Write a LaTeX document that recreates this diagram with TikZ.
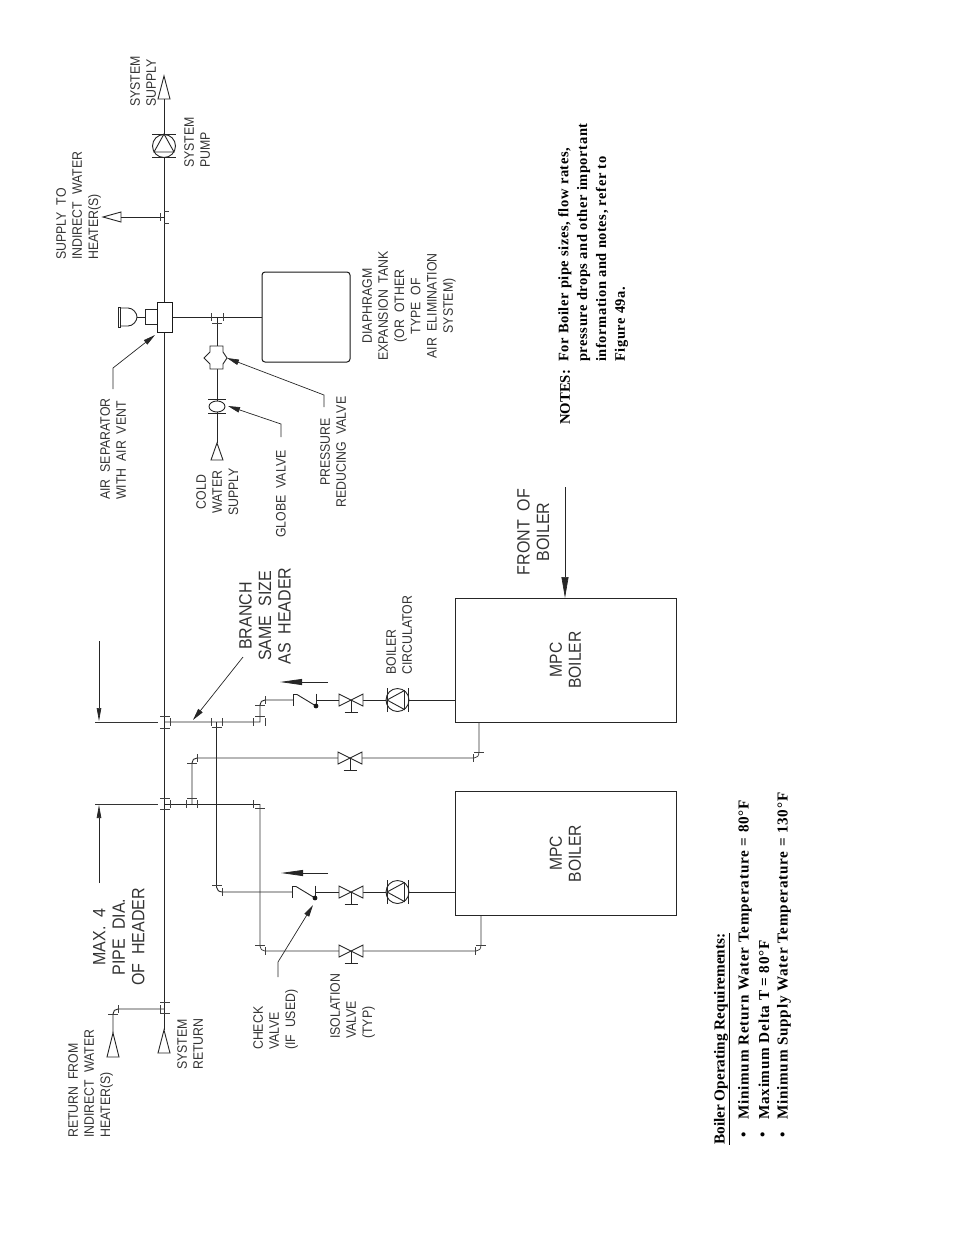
\documentclass[tikz,border=0pt]{standalone}
\usepackage{fontspec}
\setmainfont{Liberation Serif}
\newfontfamily\cadf[FakeStretch=0.9]{Liberation Sans}
\newfontfamily\notef[LetterSpace=4]{Liberation Serif}
\newfontfamily\reqf[LetterSpace=5]{Liberation Serif}
\usetikzlibrary{arrows.meta}
\tikzset{
  pipe/.style={line width=0.9pt,draw=black!85},
  thinp/.style={line width=0.7pt,draw=black!80},
  tk/.style={line width=0.6pt,draw=black!75},
  bigarrow/.style={line width=0.7pt,draw=black!85,-{Triangle[length=21pt,width=7pt]}},
  dimarrow/.style={line width=0.7pt,draw=black!85,-{Triangle[length=13pt,width=4.5pt]}},
  flow/.style={line width=0.8pt,draw=black!85,-{Triangle[length=22pt,width=6pt]}},
  lead/.style={line width=0.7pt,draw=black!85,-{Triangle[length=12pt,width=5.5pt]}},
  cadm/.style={rotate=90,inner sep=0pt,text=black!80,font=\cadf\fontsize{13.7}{16.2}\selectfont},
  cadl/.style={rotate=90,inner sep=0pt,text=black!80,font=\cadf\fontsize{17.8}{19.5}\selectfont},
  lft/.style={anchor=north west,align=left},
  ctr/.style={anchor=north,align=center},
  boiler/.style={rotate=90,draw=black!85,line width=0.9pt,minimum width=124pt,minimum height=221pt,inner sep=0pt,align=center,text=black!80,font=\cadf\fontsize{17.4}{19}\selectfont},
  bold/.style={rotate=90,inner sep=0pt,font=\bfseries\fontsize{14.7}{18.8}\selectfont},
  boldb/.style={rotate=90,inner sep=0pt,font=\notef\bfseries\fontsize{14.5}{18.8}\selectfont},
  reqh/.style={rotate=90,inner sep=0pt,anchor=west,font=\bfseries\fontsize{15.3}{18}\selectfont},
  req/.style={rotate=90,inner sep=0pt,anchor=west,font=\reqf\bfseries\fontsize{15.2}{18}\selectfont},
}
\newcommand{\vtk}[2]{\draw[tk] (#1,#2-4) -- (#1,#2+4);}
\newcommand{\htk}[2]{\draw[tk] (#1-5,#2) -- (#1+5,#2);}
\newcommand{\myvalve}[2]{%
  \draw[pipe,fill=white] (#1-12,#2-6) -- (#1+12,#2+6) -- (#1+12,#2-6) -- (#1-12,#2+6) -- cycle;
  \draw[pipe] (#1,#2) -- (#1,#2+12);
  \draw[pipe] (#1-6.5,#2+12) -- (#1+6.5,#2+12);}
\newcommand{\mycirc}[2]{%
  \draw[pipe,fill=white] (#1,#2) circle (11.5);
  \draw[pipe] (#1-10.5,#2-12) -- (#1-10.5,#2+12);
  \draw[pipe] (#1+10.5,#2-12) -- (#1+10.5,#2+12);
  \draw[pipe] (#1+7,#2-9.5) -- (#1-10.5,#2) -- (#1+7,#2+9.5) -- cycle;}
\newcommand{\mychk}[2]{%
  \draw[pipe] (#1,#2-5.5) -- (#1,#2+6);
  \draw[pipe] (#1,#2-5.5) -- (#1+4,#2-5.5) -- (#1+23,#2+6);
  \draw[pipe] (#1+23,#2-6.5) -- (#1+23,#2+6);
  \fill[black!90] (#1+23,#2+6) circle (2.4);}
\begin{document}
\begin{tikzpicture}[x=1pt,y=-1pt]
\useasboundingbox (0,0) rectangle (954,1235);

% ---------- boilers and tank
\node[boiler] (boilerA) at (565.5,660) {MPC\\BOILER};
\node[boiler] (boilerB) at (565.5,853.5) {MPC\\BOILER};
\node[draw=black!90,line width=1pt,rounded corners=3pt,minimum width=88pt,minimum height=90pt,inner sep=0pt] (tank) at (306,317) {};

% ---------- named pipe points
\coordinate (supArrow) at (164,99);
\coordinate (retArrow) at (164,1030);
\coordinate (branchA) at (164,722);
\coordinate (branchB) at (164,804);
\coordinate (elbA) at (260,722);
\coordinate (elbAtop) at (260,705);
\coordinate (elbAend) at (265,700);
\coordinate (chkA) at (293,700);
\coordinate (chkAout) at (316,700);
\coordinate (valA) at (351,700);
\coordinate (circA) at (397.5,700);
\coordinate (inA) at (455,700);
\coordinate (teeA) at (216.5,722);
\coordinate (elbC) at (216.5,887);
\coordinate (elbCend) at (223,892);
\coordinate (chkB) at (292,892);
\coordinate (chkBout) at (315,892);
\coordinate (valB) at (351,892);
\coordinate (circB) at (397.5,892);
\coordinate (inB) at (455,892);
\coordinate (teeB) at (192,804);
\coordinate (elbD) at (192,763);
\coordinate (elbDend) at (197,758);
\coordinate (valC) at (350,758);
\coordinate (elbE) at (474,758);
\coordinate (elbEup) at (479,752);
\coordinate (outA) at (479,722);
\coordinate (elbF) at (260,804);
\coordinate (elbFlo) at (260,946);
\coordinate (elbFend) at (265,951);
\coordinate (valD) at (351,951);
\coordinate (elbG) at (476,951);
\coordinate (elbGup) at (481,945);
\coordinate (outB) at (481,916);
\coordinate (teeInd) at (164,217);
\coordinate (indTri) at (121,217);
\coordinate (sepStem) at (164,317);
\coordinate (teeCold) at (217,317);
\coordinate (coldTri) at (217,443);
\coordinate (retB) at (164,1009);
\coordinate (retElb) at (118,1009);
\coordinate (retDown) at (113,1014);
\coordinate (retTri) at (113,1033);

% ---------- pipes
\draw[pipe] (supArrow) -- (retArrow);
\draw[pipe] (branchA) -- (elbA) -- (elbAtop) .. controls (260,702) and (262,700) .. (elbAend) -- (chkA);
\draw[pipe] (chkAout) -- (inA);
\draw[pipe] (teeA) -- (elbC) .. controls (216.5,890) and (219,892) .. (elbCend) -- (chkB);
\draw[pipe] (chkBout) -- (inB);
\draw[pipe] (branchB) -- (elbF);
\draw[thinp] (elbF) -- (elbFlo) .. controls (260,949) and (262,951) .. (elbFend) -- (elbG) .. controls (479,951) and (481,949) .. (elbGup) -- (outB);
\draw[pipe] (teeB) -- (elbD) .. controls (192,760) and (194,758) .. (elbDend);
\draw[thinp] (elbDend) -- (elbE) .. controls (477,758) and (479,756) .. (elbEup) -- (outA);
\draw[pipe] (teeInd) -- (indTri);
\draw[pipe] (teeCold) -- (coldTri);
\draw[pipe] (retB) -- (retElb) .. controls (115,1009) and (113,1011) .. (retDown) -- (retTri);

% ---------- header dimension lines
\coordinate (dimA0) at (95,722);
\coordinate (dimA1) at (158,722);
\coordinate (dimB0) at (95,804);
\coordinate (dimB1) at (158,804);
\draw[thinp] (dimA0) -- (dimA1);
\draw[thinp] (dimB0) -- (dimB1);
\coordinate (dimAs) at (99,641);
\coordinate (dimAe) at (99,721);
\coordinate (dimBs) at (99,883);
\coordinate (dimBe) at (99,805);
\draw[dimarrow] (dimAs) -- (dimAe);
\draw[dimarrow] (dimBs) -- (dimBe);

% ---------- end triangles
\draw[pipe] (164,76) -- (170,99) -- (158,99) -- cycle;
\draw[pipe] (164,1030) -- (170,1053) -- (158,1053) -- cycle;
\draw[pipe] (103,217) -- (121,212) -- (121,222) -- cycle;
\draw[pipe] (217,443) -- (223,460) -- (211,460) -- cycle;
\draw[pipe] (113,1033) -- (119,1057) -- (107,1057) -- cycle;

% ---------- system pump
\draw[pipe,fill=white] (164,146) circle (11.5);
\draw[pipe] (152,134) -- (176,134);
\draw[pipe] (152,157) -- (176,157);
\draw[pipe] (164,134) -- (154,152) -- (174,152) -- cycle;

% ---------- air separator and vent
\node[draw=black!90,fill=white,line width=1pt,minimum width=15pt,minimum height=30pt,inner sep=0pt] (sepBody) at (164.5,317) {};
\draw[pipe] (157,309.5) -- (145.5,309.5) -- (145.5,324.5) -- (157,324.5);
\coordinate (ventNeck) at (145.5,317);
\coordinate (ventDome) at (137,317);
\draw[pipe] (ventNeck) -- (ventDome);
\draw[pipe] (120.5,308) -- (128,308) .. controls (133,308) and (137,313) .. (ventDome) .. controls (137,321) and (133,326) .. (128,326) -- (120.5,326);
\draw[pipe] (118,307) rectangle (120.5,327);
\draw[pipe] (sepBody.east) -- (tank.west);

% ---------- pressure reducing valve
\draw[pipe,fill=white] (210,346) -- (223,346) -- (223,352) -- (227,358) -- (223,364) -- (223,369) -- (210,369) -- (210,364) -- (204,358) -- (210,352) -- cycle;
% ---------- globe valve
\draw[pipe,fill=white] (217,406.5) ellipse (8 and 5.5);
\draw[pipe] (208,399.5) -- (226,399.5);
\draw[pipe] (208,413) -- (226,413);

% ---------- valves and circulators
\mychk{293}{700}
\myvalve{351}{700}
\mycirc{397.5}{700}
\mychk{292}{892}
\myvalve{351}{892}
\mycirc{397.5}{892}
\myvalve{350}{758}
\myvalve{351}{951}

% ---------- flange ticks
\vtk{160}{217}\draw[tk] (164,211) -- (169,211);\draw[tk] (164,223) -- (169,223);
\vtk{211}{317}\vtk{223}{317}\htk{217}{323}
\htk{165}{716}\htk{165}{728}\vtk{170}{722}
\vtk{211}{722}\vtk{222}{722}\htk{216.5}{727}
\vtk{253}{722}\vtk{265}{722}\htk{260}{716}\htk{260}{705}\vtk{265}{700}
\htk{165}{798}\htk{165}{809}\vtk{170}{804}
\vtk{186}{804}\vtk{197}{804}\htk{192}{798}
\vtk{253}{804}\htk{260}{808}
\vtk{197}{758}\htk{192}{763}
\vtk{473}{758}\htk{479}{752}
\vtk{222}{892}\htk{217}{885}
\vtk{265}{951}\htk{260}{945}
\vtk{475}{951}\htk{481}{945}
\htk{165}{1002}\htk{165}{1013}\vtk{160}{1009}
\vtk{118}{1009}\htk{113}{1014}

% ---------- labels
\node[cadm,lft] (lSupply) at (130,107) {SYSTEM\\SUPPLY};
\node[cadm,lft] (lPump) at (184,168) {SYSTEM\\PUMP};
\node[cadm,lft] (lInd) at (56,260) {SUPPLY\ \ TO\\INDIRECT\ \ WATER\\HEATER(S)};
\node[cadm,lft] (lSep) at (100,500) {AIR\ \ SEPARATOR\\WITH\ \ AIR\ \ VENT};
\node[cadm,ctr] (lCold) at (196,492) {COLD\\WATER\\SUPPLY};
\node[cadm,anchor=west] (lGlobe) at (281,538) {GLOBE\ \ VALVE};
\node[cadm,ctr] (lPrv) at (320,452) {PRESSURE\\REDUCING\ \ VALVE};
\node[cadm,ctr] (lTank) at (362,306) {DIAPHRAGM\\EXPANSION\ \ TANK\\(OR\ \ OTHER\\TYPE\ \ OF\\AIR\ \ ELIMINATION\\SYSTEM)};
\node[cadm,lft] (lCirc) at (386,675) {BOILER\\CIRCULATOR};
\node[cadl,ctr] (lBranch) at (239,616) {BRANCH\\SAME\ \ SIZE\\AS\ \ HEADER};
\node[cadl,ctr] (lFront) at (517,532) {FRONT\ \ OF\\BOILER};
\node[cadl,ctr] (lMax) at (93,937) {MAX.\ \ 4\\PIPE\ \ DIA.\\OF\ \ HEADER};
\node[cadm,lft] (lCheck) at (253,1050) {CHECK\\VALVE\\(IF\ \ USED)};
\node[cadm,lft] (lIso) at (330,1039) {ISOLATION\\VALVE\\(TYP)};
\node[cadm,lft] (lRet) at (177,1070) {SYSTEM\\RETURN};
\node[cadm,lft] (lRetInd) at (68,1138) {RETURN\ \ FROM\\INDIRECT\ \ WATER\\HEATER(S)};

% ---------- leaders
\coordinate (ldSep0) at (113,389);
\coordinate (ldSep1) at (113,368);
\coordinate (ldSep2) at (155,335);
\draw[lead] (ldSep0) -- (ldSep1) -- (ldSep2);
\coordinate (ldGl0) at (281,437);
\coordinate (ldGl1) at (281,424);
\coordinate (ldGl2) at (228,406);
\draw[lead] (ldGl0) -- (ldGl1) -- (ldGl2);
\coordinate (ldPr0) at (324,407);
\coordinate (ldPr1) at (324,395);
\coordinate (ldPr2) at (227,358);
\draw[lead] (ldPr0) -- (ldPr1) -- (ldPr2);
\coordinate (ldCk0) at (278,977);
\coordinate (ldCk1) at (278,962);
\coordinate (ldCk2) at (313,905);
\draw[lead] (ldCk0) -- (ldCk1) -- (ldCk2);
\coordinate (ldBr0) at (243,657);
\coordinate (ldBr1) at (193,720);
\draw[lead] (ldBr0) -- (ldBr1);
\coordinate (ldFr0) at (565,487);
\coordinate (ldFr1) at (565,598);
\draw[bigarrow] (ldFr0) -- (ldFr1);
\coordinate (flA0) at (328,682);
\coordinate (flA1) at (280,682);
\draw[flow] (flA0) -- (flA1);
\coordinate (flB0) at (328,873);
\coordinate (flB1) at (281,873);
\draw[flow] (flB0) -- (flB1);

% ---------- notes
\node[bold,anchor=west] (nHead) at (565,425) {NOTES:};
\node[boldb,anchor=north west,align=left] (nBody) at (558,362) {For Boiler pipe sizes, flow rates,\\pressure drops and other important\\information and notes, refer to\\Figure 49a.};

\node[reqh] (rHead) at (722,1145) {\underline{Boiler Operating Requirements:}};
\node[req] (b1) at (745,1138) {•};
\node[req] (b2) at (764,1138) {•};
\node[req] (b3) at (784,1138) {•};
\node[req] (r1) at (745,1120) {Minimum Return Water Temperature = 80°F};
\node[req] (r2) at (764,1120) {Maximum Delta T = 80°F};
\node[req] (r3) at (784,1120) {Minimum Supply Water Temperature = 130°F};
\end{tikzpicture}
\end{document}
